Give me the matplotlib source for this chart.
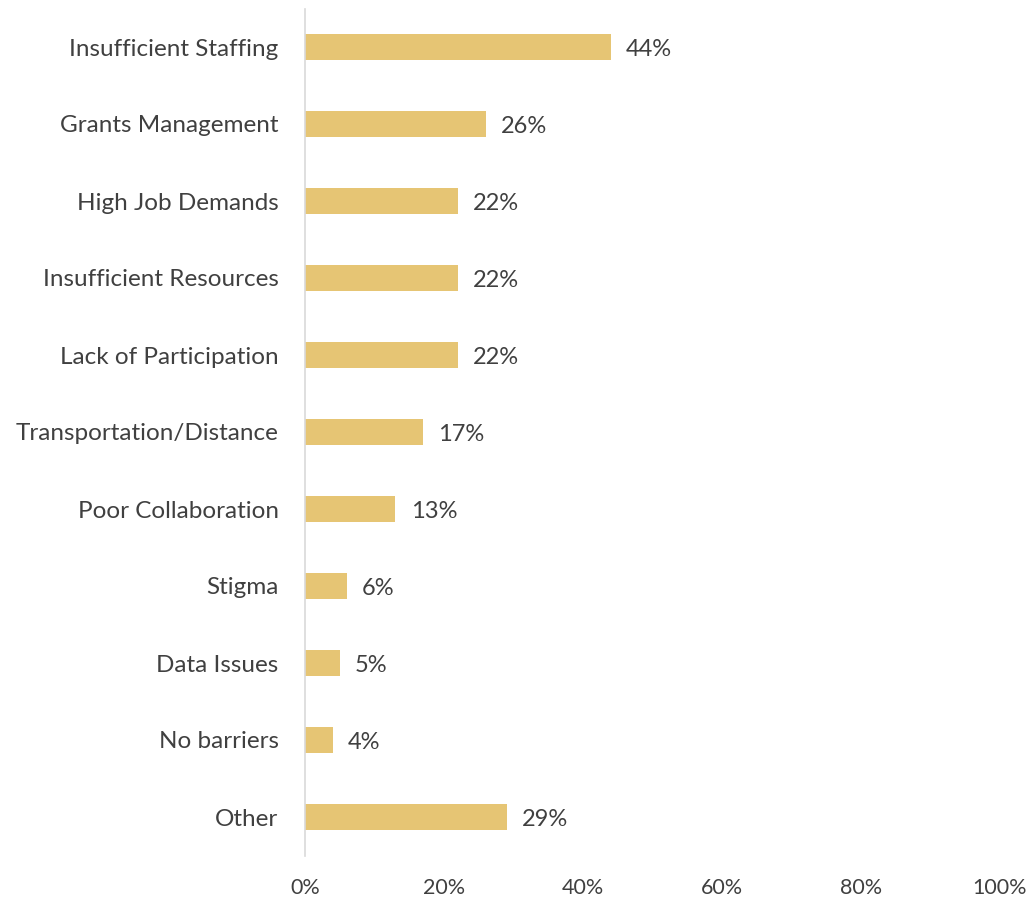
import matplotlib
matplotlib.use("Agg")
import matplotlib.pyplot as plt
from matplotlib.ticker import FuncFormatter

categories = ["Insufficient Staffing", "Grants Management", "High Job Demands",
              "Insufficient Resources", "Lack of Participation", "Transportation/Distance",
              "Poor Collaboration", "Stigma", "Data Issues", "No barriers", "Other"]
values = [44, 26, 22, 22, 22, 17, 13, 6, 5, 4, 29]
xticks = [0, 20, 40, 60, 80, 100]

bar_color = "#E6C574"
text_color = "#404040"
plt.rcParams['font.family'] = ['Lato', 'DejaVu Sans']

fig = plt.figure(figsize=(10.32, 8.99), dpi=100)
ax = fig.add_axes([305/1032, 1 - 855.5/899, 695/1032, 847/899])

y = list(range(len(categories)))
ax.barh(y, values, height=0.35, color=bar_color)
for yi, v in zip(y, values):
    ax.annotate(f"{v}%", (v, yi), xytext=(11, -2), textcoords="offset points",
                va="center", ha="left", fontsize=17, color=text_color)

ax.set_xlim(0, 100)
ax.set_ylim(len(categories) - 0.5, -0.5)
ax.set_yticks(y)
ax.set_yticklabels(categories, fontsize=17.5, color=text_color)
ax.set_xticks(xticks)
ax.xaxis.set_major_formatter(FuncFormatter(lambda v, p: f"{int(v)}%"))
ax.tick_params(axis='x', labelsize=15.5, labelcolor=text_color, length=0, pad=16)
ax.tick_params(axis='y', length=0, pad=19)
for s in ["top", "right", "bottom"]:
    ax.spines[s].set_visible(False)
ax.spines["left"].set_color("#D9D9D9")
ax.spines["left"].set_linewidth(1.2)

fig.savefig("out.png", dpi=100)
